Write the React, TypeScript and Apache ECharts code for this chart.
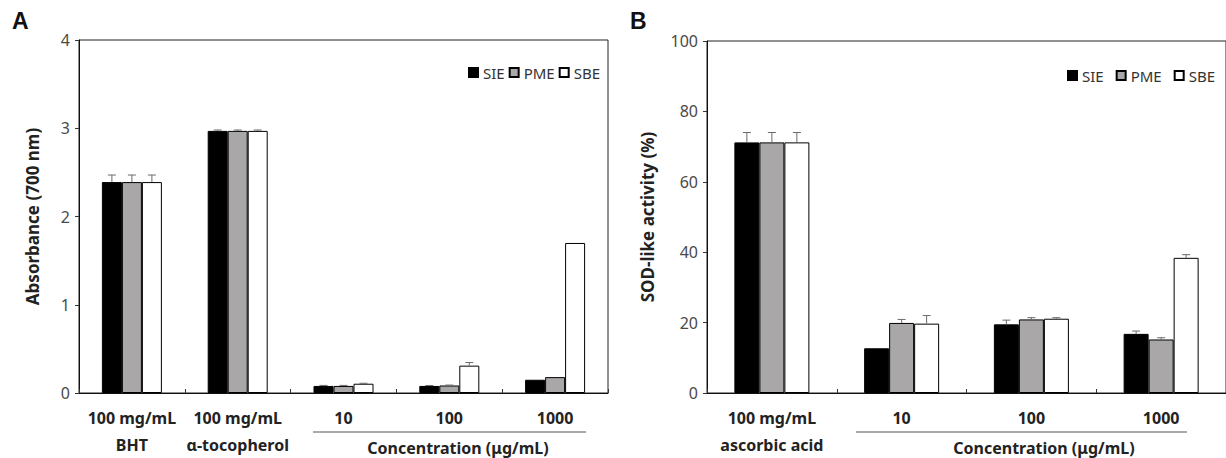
import React, { useEffect, useRef } from "react";
import * as echarts from "echarts";

const seriesNames = ["SIE", "PME", "SBE"];
const seriesColors = ["#000000", "#a9a7a7", "#ffffff"];

// Panel A: reducing power
const categoriesA = ["100 mg/mL\nBHT", "100 mg/mL\nα-tocopherol", "10", "100", "1000"];
const sieA = [2.39, 2.97, 0.08, 0.08, 0.15];
const pmeA = [2.39, 2.97, 0.08, 0.085, 0.18];
const sbeA = [2.39, 2.97, 0.105, 0.31, 1.7];
const sieAErr = [0.08, 0.01, 0.006, 0.005, 0];
const pmeAErr = [0.08, 0.01, 0.006, 0.005, 0];
const sbeAErr = [0.08, 0.01, 0.005, 0.035, 0];
const yTicksA = { min: 0, max: 4, interval: 1 };

// Panel B: SOD-like activity
const categoriesB = ["100 mg/mL\nascorbic acid", "10", "100", "1000"];
const sieB = [71.2, 12.7, 19.5, 16.8];
const pmeB = [71.2, 19.9, 20.9, 15.2];
const sbeB = [71.2, 19.7, 21.1, 38.4];
const sieBErr = [2.8, 0, 1.2, 0.8];
const pmeBErr = [2.8, 1.0, 0.5, 0.5];
const sbeBErr = [2.8, 2.3, 0.3, 0.9];
const yTicksB = { min: 0, max: 100, interval: 20 };

const FONT = "'Noto Sans', 'Open Sans', sans-serif";

function barSeries(name: string, color: string, data: number[], axis: number, width: number) {
  return {
    type: "bar",
    name,
    xAxisIndex: axis,
    yAxisIndex: axis,
    data,
    barWidth: width,
    barGap: "0%",
    itemStyle: { color, borderColor: "#000", borderWidth: 1 },
    z: 2,
  };
}

function errSeries(name: string, vals: number[], errs: number[], axis: number, offset: number) {
  return {
    type: "custom",
    name: name + "-err",
    xAxisIndex: axis,
    yAxisIndex: axis,
    z: 5,
    silent: true,
    encode: { x: 0, y: 1 },
    data: vals.map((v, i) => [i, v, errs[i]]),
    renderItem: (_params: any, api: any) => {
      const idx = api.value(0);
      const v = api.value(1);
      const e = api.value(2);
      if (!e) return null;
      const base = api.coord([idx, v]);
      const top = api.coord([idx, v + e]);
      const x = base[0] + offset;
      const style = { stroke: "#6a6a6a", lineWidth: 1 };
      return {
        type: "group",
        children: [
          { type: "line", shape: { x1: x, y1: base[1], x2: x, y2: top[1] }, style },
          { type: "line", shape: { x1: x - 4, y1: top[1], x2: x + 4, y2: top[1] }, style },
        ],
      };
    },
  };
}

function xAxisCfg(data: string[], grid: number) {
  return {
    type: "category",
    gridIndex: grid,
    data,
    axisLine: { lineStyle: { color: "#111", width: 1 } },
    axisTick: { show: true, inside: true, length: 4, lineStyle: { color: "#333" } },
    axisLabel: {
      interval: 0,
      fontWeight: "bold",
      fontSize: 16,
      color: "#222",
      margin: 11,
      lineHeight: 27,
      fontFamily: FONT,
    },
  };
}

function yAxisCfg(t: { min: number; max: number; interval: number }, grid: number, name: string, gap: number) {
  return {
    type: "value",
    gridIndex: grid,
    min: t.min,
    max: t.max,
    interval: t.interval,
    name,
    nameLocation: "middle",
    nameGap: gap,
    nameTextStyle: { fontWeight: "bold", fontSize: 17, color: "#222", fontFamily: FONT },
    axisLine: { show: true, lineStyle: { color: "#111", width: 1 } },
    axisTick: { show: true, length: 4, lineStyle: { color: "#333" } },
    splitLine: { show: false },
    axisLabel: { fontSize: 16, color: "#4a4a4a", margin: 9, fontFamily: FONT },
  };
}

export default function App() {
  const ref = useRef<HTMLDivElement>(null);
  useEffect(() => {
    if (!ref.current) return;
    const chart = echarts.init(ref.current, undefined, { renderer: "svg" });
    const wA = 20;
    const wB = 25;
    chart.setOption({
      animation: false,
      backgroundColor: "#ffffff",
      textStyle: { fontFamily: FONT },
      grid: [
        { left: 79, top: 40, width: 529, height: 353, show: true, borderColor: "#222", borderWidth: 1 },
        { left: 707, top: 41, width: 522, height: 353, show: true, borderColor: "#222", borderWidth: 1 },
      ],
      legend: [
        {
          data: seriesNames,
          left: 463,
          top: 60,
          icon: "rect",
          itemWidth: 9,
          itemHeight: 9,
          itemGap: 4,
          textStyle: { fontSize: 15, color: "#333", fontFamily: FONT },
        },
        {
          data: seriesNames,
          left: 1062,
          top: 63,
          icon: "rect",
          itemWidth: 9,
          itemHeight: 9,
          itemGap: 12,
          textStyle: { fontSize: 15, color: "#333", fontFamily: FONT },
        },
      ],
      xAxis: [xAxisCfg(categoriesA, 0), xAxisCfg(categoriesB, 1)],
      yAxis: [
        yAxisCfg(yTicksA, 0, "Absorbance (700 nm)", 38),
        yAxisCfg(yTicksB, 1, "SOD-like activity (%)", 51),
      ],
      series: [
        barSeries(seriesNames[0], seriesColors[0], sieA, 0, wA),
        barSeries(seriesNames[1], seriesColors[1], pmeA, 0, wA),
        barSeries(seriesNames[2], seriesColors[2], sbeA, 0, wA),
        errSeries(seriesNames[0], sieA, sieAErr, 0, -wA),
        errSeries(seriesNames[1], pmeA, pmeAErr, 0, 0),
        errSeries(seriesNames[2], sbeA, sbeAErr, 0, wA),
        barSeries(seriesNames[0], seriesColors[0], sieB, 1, wB),
        barSeries(seriesNames[1], seriesColors[1], pmeB, 1, wB),
        barSeries(seriesNames[2], seriesColors[2], sbeB, 1, wB),
        errSeries(seriesNames[0], sieB, sieBErr, 1, -wB),
        errSeries(seriesNames[1], pmeB, pmeBErr, 1, 0),
        errSeries(seriesNames[2], sbeB, sbeBErr, 1, wB),
      ],
      graphic: [
        { type: "text", left: 12, top: 9, style: { text: "A", fontSize: 23, fontWeight: "bold", fill: "#111", fontFamily: "'Liberation Sans', Arial, sans-serif" } },
        { type: "text", left: 630, top: 9, style: { text: "B", fontSize: 23, fontWeight: "bold", fill: "#111", fontFamily: "'Liberation Sans', Arial, sans-serif" } },
        { type: "line", shape: { x1: 313, y1: 432, x2: 586, y2: 432 }, style: { stroke: "#555", lineWidth: 1 } },
        { type: "text", x: 458, y: 448, style: { text: "Concentration (μg/mL)", fontSize: 16, fontWeight: "bold", fill: "#222", align: "center", verticalAlign: "middle", fontFamily: FONT } },
        { type: "line", shape: { x1: 856, y1: 432, x2: 1187, y2: 432 }, style: { stroke: "#555", lineWidth: 1 } },
        { type: "text", x: 1044, y: 448, style: { text: "Concentration (μg/mL)", fontSize: 16, fontWeight: "bold", fill: "#222", align: "center", verticalAlign: "middle", fontFamily: FONT } },
      ],
    });
    return () => chart.dispose();
  }, []);
  return <div ref={ref} style={{ position: "fixed", left: 0, top: 0, width: 1226, height: 458 }} />;
}
